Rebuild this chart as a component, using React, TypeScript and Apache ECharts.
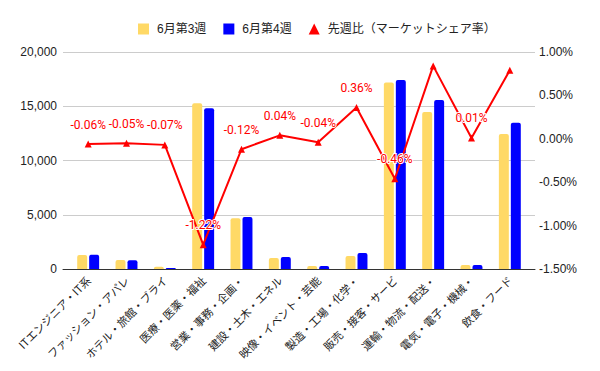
import React, { useEffect, useRef } from "react";
import * as echarts from "echarts";

const categories = [
  "ITエンジニア・IT系",
  "ファッション・アパレ",
  "ホテル・旅館・ブライ",
  "医療・医薬・福祉",
  "営業・事務・企画・",
  "建設・土木・エネル",
  "映像・イベント・芸能",
  "製造・工場・化学・",
  "販売・接客・サービ",
  "運輸・物流・配送・",
  "電気・電子・機械・",
  "飲食・フード",
];
const week3 = [1290, 830, 215, 15270, 4670, 1010, 280, 1200, 17200, 14470, 370, 12440];
const week4 = [1320, 800, 90, 14810, 4790, 1100, 280, 1470, 17420, 15580, 370, 13490];
const shareChange = [-0.06, -0.05, -0.07, -1.22, -0.12, 0.04, -0.04, 0.36, -0.46, 0.84, 0.01, 0.79];
const hiddenLabels = [9, 11];
const leftTicks = { min: 0, max: 20000, interval: 5000 };
const rightTicks = { min: -1.5, max: 1.0, interval: 0.5 };

const seriesNames = ["6月第3週", "6月第4週", "先週比（マーケットシェア率）"];

const FONT = "Arial, 'Liberation Sans', 'Noto Sans CJK JP', sans-serif";

export default function App() {
  const ref = useRef<HTMLDivElement>(null);
  useEffect(() => {
    if (!ref.current) return;
    const chart = echarts.init(ref.current, undefined, { renderer: "svg" });
    const top = 52;
    const bottom = 102;
    chart.setOption({
      animation: false,
      textStyle: { fontFamily: FONT },
      legend: {
        left: 133,
        top: 18,
        itemWidth: 11,
        itemHeight: 11,
        itemGap: 17,
        textStyle: { fontSize: 12, color: "#222", fontFamily: FONT, padding: [0, 0, 0, 3] },
        data: [
          { name: seriesNames[0], icon: "rect" },
          { name: seriesNames[1], icon: "rect" },
          { name: seriesNames[2], icon: "triangle" },
        ],
      },
      grid: [
        { left: 69, right: 71, top, bottom },
        { left: 63, right: 65, top, bottom },
      ],
      xAxis: [
        {
          type: "category",
          gridIndex: 0,
          data: categories,
          axisLine: { show: false },
          axisTick: { show: false },
          axisLabel: {
            rotate: 45,
            margin: 9,
            fontSize: 11,
            color: "#222",
            interval: 0,
            fontFamily: "'Noto Sans CJK JP', sans-serif",
          },
        },
        {
          type: "category",
          gridIndex: 1,
          data: categories,
          axisLine: { show: true, lineStyle: { color: "#333", width: 1 } },
          axisTick: { show: false },
          axisLabel: { show: false },
        },
      ],
      yAxis: [
        {
          type: "value",
          gridIndex: 0,
          ...leftTicks,
          show: false,
          splitLine: { show: false },
        },
        {
          type: "value",
          gridIndex: 0,
          position: "right",
          ...rightTicks,
          axisLine: { show: false },
          axisTick: { show: false },
          splitLine: { show: false },
          axisLabel: {
            margin: 10,
            fontSize: 12,
            color: "#222",
            formatter: (v: number) => v.toFixed(2) + "%",
          },
        },
        {
          type: "value",
          gridIndex: 1,
          ...leftTicks,
          axisLine: { show: false },
          axisTick: { show: false },
          splitLine: { show: true, lineStyle: { color: "#ccc", width: 1 } },
          axisLabel: {
            margin: 6,
            fontSize: 12,
            color: "#222",
            formatter: (v: number) => v.toLocaleString("en-US"),
          },
        },
      ],
      series: [
        {
          name: seriesNames[0],
          type: "bar",
          xAxisIndex: 0,
          yAxisIndex: 0,
          data: week3,
          barWidth: "26%",
          barGap: "20%",
          itemStyle: { color: "#ffd966", borderRadius: [2, 2, 0, 0] },
        },
        {
          name: seriesNames[1],
          type: "bar",
          xAxisIndex: 0,
          yAxisIndex: 0,
          data: week4,
          barWidth: "26%",
          barGap: "20%",
          itemStyle: { color: "#0000ff", borderRadius: [2, 2, 0, 0] },
        },
        {
          name: seriesNames[2],
          type: "line",
          xAxisIndex: 0,
          yAxisIndex: 1,
          z: 5,
          data: shareChange.map((v, i) =>
            hiddenLabels.includes(i) ? { value: v, label: { show: false } } : v
          ),
          symbol: "triangle",
          symbolSize: 7,
          itemStyle: { color: "#ff0000" },
          lineStyle: { color: "#ff0000", width: 2 },
          label: {
            show: true,
            position: "top",
            distance: 10,
            color: "#ff0000",
            fontSize: 12,
            fontFamily: "Roboto, Arial, sans-serif",
            textBorderColor: "#fff",
            textBorderWidth: 2,
            formatter: (p: any) => Number(p.value).toFixed(2) + "%",
          },
        },
      ],
    });
    return () => chart.dispose();
  }, []);
  return (
    <div
      ref={ref}
      style={{ position: "fixed", left: 0, top: 0, width: 600, height: 371, background: "#fff" }}
    />
  );
}
